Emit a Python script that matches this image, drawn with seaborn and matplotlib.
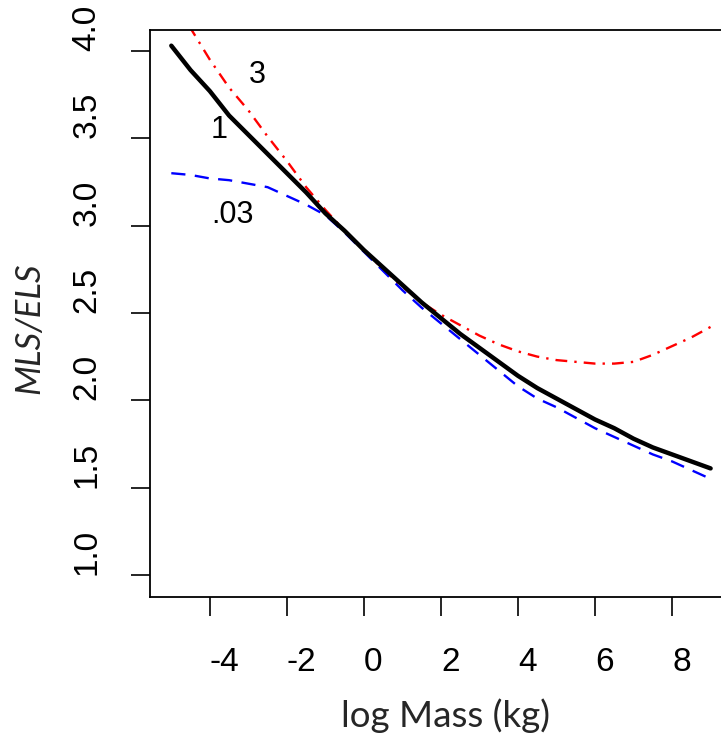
import numpy as np
import pandas as pd
import matplotlib
matplotlib.use("Agg")
import matplotlib.pyplot as plt
import seaborn as sns

# log mass grid (kg) and MLS/ELS ratio for the three parameter values
log_mass = [-5, -4.5, -4, -3.5, -3, -2.5, -2, -1.5, -1, -0.5, 0, 0.5, 1, 1.5, 2,
            2.5, 3, 3.5, 4, 4.5, 5, 5.5, 6, 6.5, 7, 7.5, 8, 8.5, 9]
ratio_1 = [4.03, 3.89, 3.77, 3.63, 3.52, 3.41, 3.30, 3.19, 3.07, 2.97, 2.86, 2.76,
           2.66, 2.56, 2.47, 2.38, 2.30, 2.22, 2.14, 2.07, 2.01, 1.95, 1.89, 1.84,
           1.78, 1.73, 1.69, 1.65, 1.61]
ratio_3 = [4.42, 4.13, 3.95, 3.79, 3.66, 3.51, 3.37, 3.22, 3.09, 2.97, 2.86, 2.75,
           2.65, 2.56, 2.49, 2.43, 2.37, 2.32, 2.28, 2.25, 2.23, 2.22, 2.21, 2.21,
           2.22, 2.26, 2.31, 2.36, 2.42]
ratio_03 = [3.30, 3.29, 3.27, 3.26, 3.24, 3.22, 3.17, 3.12, 3.06, 2.96, 2.85, 2.74,
            2.63, 2.53, 2.44, 2.35, 2.26, 2.17, 2.08, 2.01, 1.96, 1.90, 1.84, 1.79,
            1.74, 1.69, 1.65, 1.60, 1.55]

curve_labels = ["3", "1", ".03"]
label_x = [-2.76, -3.77, -3.4]
label_y = [3.86, 3.55, 3.06]

xticks = [-4, -2, 0, 2, 4, 6, 8]
yticks = [1.0, 1.5, 2.0, 2.5, 3.0, 3.5, 4.0]

df = pd.DataFrame({"logm": log_mass, "r1": ratio_1, "r3": ratio_3, "r03": ratio_03})

sns.set_theme(style="ticks")
plt.rcParams['font.family'] = ['Liberation Sans', 'DejaVu Sans']

fig = plt.figure(figsize=(7.21, 7.36), dpi=100)
ax = fig.add_axes([0.208, 0.1889, 0.792, 0.7704])

# red dash-dot (3), blue dashed (.03), black solid (1)
sns.lineplot(data=df, x="logm", y="r3", color="red", linewidth=1.7, ax=ax)
ax.lines[-1].set_dashes((5, 3, 1, 3))
sns.lineplot(data=df, x="logm", y="r03", color="blue", linewidth=1.7, ax=ax)
ax.lines[-1].set_dashes((6, 4))
sns.lineplot(data=df, x="logm", y="r1", color="black", linewidth=3.2, ax=ax)

for t, x, y in zip(curve_labels, label_x, label_y):
    ax.text(x, y, t, fontsize=22, ha="center", va="center", color="black")

ax.set_xlim(-5.554, 9.27)
ax.set_ylim(0.874, 4.12)

ax.set_xticks(xticks)
ax.set_xticklabels([str(v) for v in xticks], ha="left", fontsize=24)
ax.set_yticks(yticks)
ax.set_yticklabels([f"{v:.1f}" for v in yticks], rotation=90, rotation_mode="anchor",
                   ha="left", va="bottom", fontsize=24)

ax.tick_params(axis="x", direction="out", length=14, width=1.2, pad=22, colors="black")
ax.tick_params(axis="y", direction="out", length=14, width=1.2, pad=20, colors="black")

for side in ["left", "bottom", "top"]:
    ax.spines[side].set_visible(True)
    ax.spines[side].set_linewidth(1.3)
    ax.spines[side].set_color("black")
ax.spines["right"].set_visible(False)

ax.set_xlabel("log Mass (kg)", family=['Lato', 'DejaVu Sans'], fontsize=26.5)
ax.set_ylabel("MLS/ELS", family=['Lato', 'DejaVu Sans'], style="italic", fontsize=25)
ax.xaxis.set_label_coords(0.517, -0.178)
ax.yaxis.set_label_coords(-0.184, 0.474)

fig.savefig("out.png", dpi=100)
